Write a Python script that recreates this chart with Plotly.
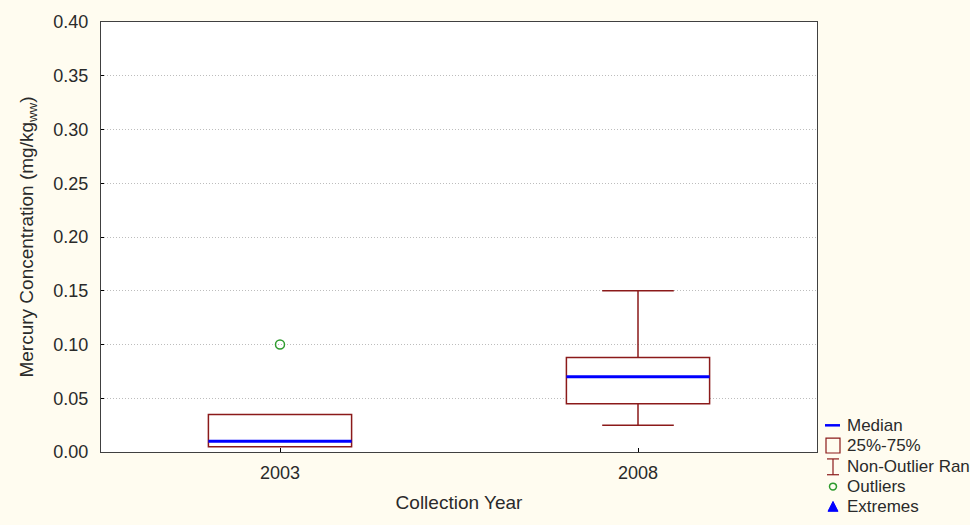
import plotly.graph_objects as go

# box-plot summary values
years = ["2003", "2008"]
q1 = [0.005, 0.045]
median = [0.010, 0.070]
q3 = [0.035, 0.088]
low_whisker = [0.005, 0.025]
high_whisker = [0.035, 0.150]
outlier_year = ["2003"]
outlier_value = [0.10]
y_ticks = [0.0, 0.05, 0.10, 0.15, 0.20, 0.25, 0.30, 0.35, 0.40]

W, H = 970, 525
L, R, T, B = 101, 153, 17, 73
RED = "#8B1A1A"
BLUE = "#0000FF"
GREEN = "#2E9B2E"
BG = "#FFFCF0"
INK = "#2A2A2A"
FONT = "Liberation Sans, Arial, sans-serif"

pos = list(range(len(years)))
box_w = 0.4

fig = go.Figure()
fig.add_trace(go.Box(
    x=pos, q1=q1, median=median, q3=q3,
    lowerfence=low_whisker, upperfence=high_whisker,
    width=box_w, whiskerwidth=0.5, boxpoints=False,
    line=dict(color=RED, width=1.5), fillcolor="white",
    showlegend=False, hoverinfo="skip",
))
# blue median bars on top of the boxes
for p, m in zip(pos, median):
    fig.add_trace(go.Scatter(
        x=[p - box_w / 2, p + box_w / 2], y=[m, m], mode="lines",
        line=dict(color=BLUE, width=3), showlegend=False, hoverinfo="skip",
    ))
fig.add_trace(go.Scatter(
    x=[years.index(y) for y in outlier_year], y=outlier_value, mode="markers",
    marker=dict(symbol="circle-open", color=GREEN, size=9, line=dict(width=1.5)),
    showlegend=False,
))

# manual legend to the lower right, in pixel terms
pw, ph = W - L - R, H - T - B
def px(x):
    return (x - L) / pw
def py(y):
    return (H - B - y) / ph

shapes = [
    dict(type="line", x0=px(825), x1=px(840), y0=py(425), y1=py(425),
         line=dict(color=BLUE, width=2.5)),
    dict(type="rect", x0=px(826), x1=px(840), y0=py(438), y1=py(453),
         line=dict(color=RED, width=1.2)),
    dict(type="line", x0=px(833), x1=px(833), y0=py(459), y1=py(475),
         line=dict(color=RED, width=1.2)),
    dict(type="line", x0=px(827), x1=px(839), y0=py(459), y1=py(459),
         line=dict(color=RED, width=1.2)),
    dict(type="line", x0=px(827), x1=px(839), y0=py(475), y1=py(475),
         line=dict(color=RED, width=1.2)),
    dict(type="circle", x0=px(829.5), x1=px(836.5), y0=py(483.5), y1=py(490.5),
         line=dict(color=GREEN, width=1.5)),
    dict(type="path",
         path=f"M {px(828)} {py(512)} L {px(838)} {py(512)} L {px(833)} {py(502)} Z",
         fillcolor=BLUE, line=dict(color=BLUE, width=1)),
]
for s in shapes:
    s.update(xref="paper", yref="paper", layer="above")

labels = ["Median", "25%-75%", "Non-Outlier Range", "Outliers", "Extremes"]
label_y = [425, 445, 467, 487, 507]
annotations = [
    dict(text=t, x=px(845), y=py(yy), xref="paper", yref="paper",
         xanchor="left", yanchor="middle", showarrow=False,
         font=dict(size=17, color=INK, family=FONT))
    for t, yy in zip(labels, label_y)
]

fig.update_layout(
    width=W, height=H,
    margin=dict(l=L, r=R, t=T, b=B),
    paper_bgcolor=BG, plot_bgcolor="white",
    font=dict(family=FONT, size=18, color=INK),
    shapes=shapes, annotations=annotations,
    showlegend=False,
)
fig.update_xaxes(
    range=[-0.5, 1.5], tickvals=pos, ticktext=years,
    showgrid=False, zeroline=False,
    ticks="inside", ticklen=4, tickcolor="#000000",
    showline=True, linecolor="#404040", linewidth=1, mirror=True,
    title=dict(text="Collection Year", font=dict(size=19), standoff=14),
    tickfont=dict(size=18), ticklabelstandoff=4,
)
fig.update_yaxes(
    range=[0, 0.4], tickvals=y_ticks, tickformat=".2f",
    showgrid=True, gridcolor="#BDBDBD", griddash="1px,2px", gridwidth=1,
    zeroline=False,
    ticks="inside", ticklen=3, tickcolor="#000000",
    showline=True, linecolor="#404040", linewidth=1, mirror=True,
    title=dict(text="Mercury Concentration (mg/kg<sub>ww</sub>)",
               font=dict(size=19), standoff=14),
    tickfont=dict(size=18), ticklabelstandoff=8,
)

fig.write_html("out.html", config={"displayModeBar": False},
               post_script="document.body.style.margin='0';")
